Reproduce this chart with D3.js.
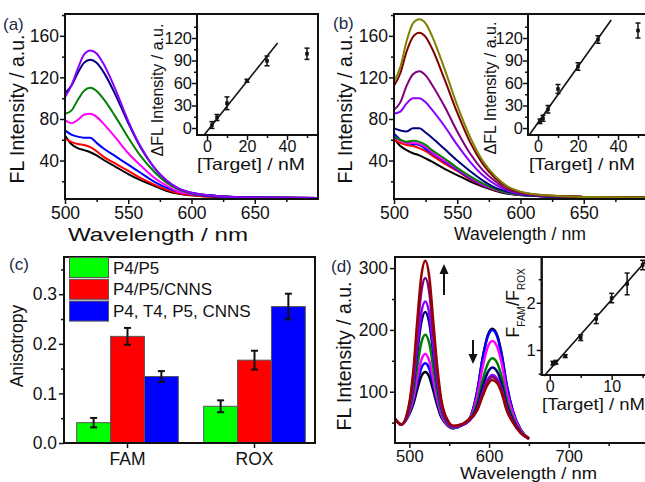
<!DOCTYPE html>
<html>
<head>
<meta charset="utf-8">
<script src="https://cdn.jsdelivr.net/npm/d3@7/dist/d3.min.js"></script>
<style>
  body { margin: 0; background: #fff; }
  svg { display: block; font-family: "Liberation Sans", Arial, sans-serif; }
</style>
</head>
<body>
<svg id="fig" width="645" height="482"></svg>
<script>
// ─── Data ───

// (a) spectra, sampled at waveAB (nm)
const waveAB = [500, 505, 510, 515, 520, 525, 530, 540, 550, 560, 570, 580, 590, 600, 620, 650, 700];
const specA = [
    [64, 56, 52, 50, 48, 45, 41, 34, 27, 21, 16, 11, 8, 6.5, 5, 4.5, 4],          // black
    [61, 58, 56, 55, 53, 49, 44, 37, 30, 23, 17, 12, 8.5, 6.5, 5, 4.5, 4],        // red
    [69, 65, 63, 62, 62, 57, 52, 44, 36, 28, 20, 14, 10, 7.5, 5.5, 4.5, 4],       // blue
    [79, 76, 79, 84, 85, 82, 76, 62, 47, 35, 24, 16, 10, 8, 6, 4.5, 4],           // magenta
    [85, 88, 98, 107, 110, 107, 100, 82, 62, 44, 30, 19, 12, 8.5, 6, 4.5, 4],     // green
    [105, 112, 124, 134, 137, 134, 126, 103, 76, 52, 34, 21, 13, 9, 6, 4.5, 4],   // navy
    [101, 112, 128, 142, 146, 143, 134, 108, 78, 53, 34, 21, 13, 9, 6, 4.5, 4]    // violet
];
const colorsA = ['#000000', '#ff0000', '#0000ff', '#ff00ff', '#008000', '#000080', '#8b00ff'];

// (a) inset
const insetAX = [2.5, 5, 10, 20, 30, 50];
const insetAY = [4, 14, 33, 63, 89.5, 99];
const insetAErr = [4.5, 4, 8.5, 2, 6.5, 7.5];
const fitA = { slope: 3.34, intercept: -4.4, from: -1.35, to: 35.3 };

// (b) spectra
const specB = [
    [61, 54, 50, 47, 45, 42, 39, 32, 26, 20, 15, 11, 8, 6.5, 5.5, 5, 4.5],           // black
    [60, 57, 55, 54, 52, 49, 45, 37, 30, 22, 16, 11.5, 8.5, 7, 5.5, 5, 4.5],         // red
    [66, 60, 57, 56, 55, 51, 47, 39, 31, 23, 16.5, 12, 8.5, 7, 5.5, 5, 4.5],         // blue
    [62, 59, 57, 57, 56, 53, 48, 40, 32, 24, 17, 12, 9, 7, 5.5, 5, 4.5],             // magenta
    [63, 60, 58, 59, 58, 55, 50, 42, 33, 25, 18, 12.5, 9, 7, 5.5, 5, 4.5],           // green
    [71, 69, 68, 71, 71, 67, 62, 51, 40, 30, 21, 14, 10, 7.5, 5.5, 5, 4.5],          // navy
    [85, 87, 95, 100, 100, 96, 89, 73, 55, 39, 26, 17, 11, 8, 6, 5, 4.5],            // violet
    [89, 96, 112, 123, 126, 122, 113, 92, 68, 47, 31, 20, 12, 9, 6, 5, 4.5],         // purple
    [112, 124, 145, 159, 163, 159, 148, 118, 86, 58, 37, 23, 14, 9.5, 6.5, 5, 4.5],  // dark red
    [116, 130, 155, 172, 176, 172, 160, 128, 93, 63, 40, 25, 15, 10, 6.5, 5, 4.5]    // olive
];
const colorsB = ['#000000', '#ff0000', '#0000ff', '#ff00ff', '#008000', '#000080', '#8b00ff', '#800080', '#800000', '#808000'];

// (b) inset
const insetBX = [1, 2.5, 5, 10, 20, 30, 50];
const insetBY = [9, 13, 25, 52, 82, 118, 130];
const insetBErr = [3, 4, 5, 6, 5, 5, 10];
const fitB = { slope: 3.74, intercept: 7.2, from: -4.3, to: 36.6 };

// (c) anisotropy bars
const barGroups = ['FAM', 'ROX'];
const barSeries = ['P4/P5', 'P4/P5/CNNS', 'P4, T4, P5, CNNS'];
const barValues = [
    [0.041, 0.215, 0.134],   // FAM
    [0.074, 0.167, 0.275]    // ROX
];
const barErrors = [
    [0.0095, 0.017, 0.011],
    [0.012, 0.019, 0.026]
];
const barColors = ['#00ff00', '#ff0000', '#0000ff'];

// (d) dual-emission spectra
const waveD = [482, 490, 500, 505, 510, 515, 520, 525, 530, 535, 540, 548, 555, 565, 575, 585, 592, 598, 604, 610, 616, 622, 630, 640, 650];
const specD = [
    [56, 47, 64, 80, 104, 125, 132, 124, 102, 78, 59, 45, 41, 45, 55, 100, 155, 190, 202, 192, 160, 112, 68, 38, 24], // black
    [56, 47, 65, 84, 113, 138, 146, 137, 111, 83, 61, 46, 41, 45, 55, 99, 154, 188, 200, 190, 158, 111, 68, 38, 24],  // blue
    [56, 47, 67, 89, 122, 151, 161, 150, 120, 88, 64, 46, 42, 45, 54, 92, 140, 171, 182, 173, 145, 102, 64, 37, 24],  // magenta
    [56, 47, 70, 98, 141, 179, 192, 178, 139, 99, 69, 48, 42, 46, 54, 82, 119, 144, 154, 147, 123, 88, 57, 35, 24],   // green
    [56, 47, 74, 109, 164, 212, 229, 211, 162, 112, 75, 50, 43, 46, 53, 76, 108, 130, 139, 133, 112, 80, 54, 34, 24], // navy
    [56, 47, 75, 114, 175, 228, 246, 227, 173, 118, 77, 51, 43, 46, 53, 71, 99, 119, 127, 121, 103, 74, 51, 33, 24],  // violet
    [56, 47, 79, 126, 198, 262, 284, 261, 196, 131, 83, 53, 44, 47, 53, 70, 96, 116, 124, 119, 101, 73, 51, 33, 24],  // purple
    [56, 47, 82, 134, 216, 287, 312, 286, 214, 141, 88, 54, 45, 47, 56, 70, 93, 111, 119, 114, 97, 70, 50, 33, 24]    // dark red
];
const colorsD = ['#000000', '#0000ff', '#ff00ff', '#008000', '#000080', '#8b00ff', '#800080', '#990000'];

// (d) inset
const insetDX = [0.5, 1, 2.5, 5, 7.5, 10, 12.5, 15];
const insetDY = [0.72, 0.74, 0.87, 1.26, 1.66, 2.1, 2.4, 2.8];
const insetDErr = [0.04, 0.04, 0.03, 0.06, 0.1, 0.1, 0.23, 0.1];
const fitD = { slope: 0.148, intercept: 0.586, from: -0.92, to: 17 };

// ─── Helpers ───
const svg = d3.select('#fig');
const INK = '#111';
const FONT = '"Liberation Sans", Arial, sans-serif';

function axes(x, y, o) {
    const g = svg.append('g');
    const [x0] = x.range();
    const [y0] = y.range();   // y0 = bottom
    const fs = o.fontSize || 17;

    const bx = g.append('g').attr('transform', `translate(0,${y0})`)
        .call(d3.axisBottom(x).tickValues(o.xTicks).tickSize(5).tickPadding(o.xPad ?? 4)
            .tickFormat(o.xFmt || d3.format('d')));
    if (o.xMinor) {
        g.append('g').attr('transform', `translate(0,${y0})`)
            .call(d3.axisBottom(x).tickValues(o.xMinor).tickSize(3).tickFormat(''))
            .select('.domain').remove();
    }
    const ly = g.append('g').attr('transform', `translate(${x0},0)`)
        .call(d3.axisLeft(y).tickValues(o.yTicks).tickSize(5).tickPadding(o.yPad ?? 2)
            .tickFormat(o.yFmt || d3.format('d')));
    if (o.yMinor) {
        g.append('g').attr('transform', `translate(${x0},0)`)
            .call(d3.axisLeft(y).tickValues(o.yMinor).tickSize(3).tickFormat(''))
            .select('.domain').remove();
    }
    bx.select('.domain').remove();
    ly.select('.domain').remove();
    g.selectAll('.tick line').attr('stroke', INK).attr('stroke-width', 1.5);
    g.selectAll('.tick text').attr('fill', INK).style('font-size', fs + 'px')
        .style('font-family', FONT);
    if (o.xFont) bx.selectAll('.tick text').style('font-size', o.xFont + 'px');
    return g;
}

function frame(x, y, fill) {
    const [x0, x1] = x.range();
    const [y0, y1] = y.range();
    return svg.append('rect')
        .attr('x', x0).attr('y', y1)
        .attr('width', x1 - x0).attr('height', y0 - y1)
        .attr('fill', fill || 'none')
        .attr('stroke', INK).attr('stroke-width', 2);
}

function label(txt, xp, yp, size, opts = {}) {
    const t = svg.append('text')
        .attr('x', xp).attr('y', yp)
        .attr('fill', opts.color || INK)
        .style('font-size', size + 'px')
        .style('font-family', FONT)
        .attr('text-anchor', opts.anchor || 'start')
        .text(txt);
    if (opts.rotate) t.attr('transform', `rotate(-90,${xp},${yp})`);
    if (opts.length) t.attr('textLength', opts.length).attr('lengthAdjust', 'spacingAndGlyphs');
    return t;
}

function spectra(x, y, wave, series, colors, width) {
    const line = d3.line()
        .x((d, i) => x(wave[i]))
        .y(d => y(d))
        .curve(d3.curveMonotoneX);
    svg.append('g').attr('fill', 'none').attr('stroke-width', width)
        .attr('stroke-linejoin', 'round')
        .selectAll('path').data(series).join('path')
        .attr('stroke', (d, i) => colors[i])
        .attr('d', line);
}

function scatterFit(x, y, xs, ys, errs, fit) {
    const g = svg.append('g');
    g.append('line')
        .attr('x1', x(fit.from)).attr('y1', y(fit.slope * fit.from + fit.intercept))
        .attr('x2', x(fit.to)).attr('y2', y(fit.slope * fit.to + fit.intercept))
        .attr('stroke', INK).attr('stroke-width', 1.6);
    xs.forEach((v, i) => {
        const cx = x(v), top = y(ys[i] + errs[i]), bot = y(ys[i] - errs[i]);
        g.append('line').attr('x1', cx).attr('x2', cx).attr('y1', top).attr('y2', bot)
            .attr('stroke', INK).attr('stroke-width', 1.5);
        [top, bot].forEach(yy => g.append('line')
            .attr('x1', cx - 2.5).attr('x2', cx + 2.5).attr('y1', yy).attr('y2', yy)
            .attr('stroke', INK).attr('stroke-width', 1.5));
        g.append('rect').attr('x', cx - 1.8).attr('y', y(ys[i]) - 1.8)
            .attr('width', 3.6).attr('height', 3.6).attr('fill', INK);
    });
}

const panelInk = '#1c2a4a';

// ─── Panel (a) ───
{
    const x = d3.scaleLinear([500, 700], [65, 318]);
    const y = d3.scaleLinear([3, 181], [199, 14]);
    spectra(x, y, waveAB, specA, colorsA, 2);
    frame(x, y);
    axes(x, y, { xTicks: [500, 550, 600, 650], xMinor: [525, 575, 625, 675],
        yTicks: [40, 80, 120, 160], yMinor: [20, 60, 100, 140, 180], fontSize: 17.5, xPad: 3, yPad: 1 });
    label('Wavelength / nm', 68, 241, 18.5, { length: 180 });
    label('FL Intensity / a.u.', 24, 109, 19.5, { rotate: true, anchor: 'middle' });
    label('(a)', 3, 30, 17, { color: panelInk });

    const xi = d3.scaleLinear([-5, 55.5], [197, 318]);
    const yi = d3.scaleLinear([-9.3, 152], [135, 14]);
    frame(xi, yi, '#fff');
    scatterFit(xi, yi, insetAX, insetAY, insetAErr, fitA);
    frame(xi, yi);
    axes(xi, yi, { xTicks: [0, 20, 40], xMinor: [10, 30, 50], yTicks: [0, 30, 60, 90, 120],
        yMinor: [15, 45, 75, 105, 135], fontSize: 16.5, xFont: 16, xPad: 1, yPad: 0 });
    label('[Target] / nM', 197, 170, 16.5, { length: 108 });
    label('\u0394FL Intensity / a.u.', 163, 90, 16, { rotate: true, anchor: 'middle' });
}

// ─── Panel (b) ───
{
    const x = d3.scaleLinear([500, 700], [394, 647]);
    const y = d3.scaleLinear([3, 181], [199, 14]);
    spectra(x, y, waveAB, specB, colorsB, 2);
    frame(x, y);
    axes(x, y, { xTicks: [500, 550, 600, 650], xMinor: [525, 575, 625, 675],
        yTicks: [40, 80, 120, 160], yMinor: [20, 60, 100, 140, 180], fontSize: 17.5, xPad: 3, yPad: 1 });
    label('Wavelength / nm', 454, 240, 17.5, { length: 132 });
    label('FL Intensity / a.u.', 352, 109, 19.5, { rotate: true, anchor: 'middle' });
    label('(b)', 333, 29, 17, { color: panelInk });

    const xi = d3.scaleLinear([-5, 55.5], [528, 649]);
    const yi = d3.scaleLinear([-9.3, 152], [135, 14]);
    frame(xi, yi, '#fff');
    scatterFit(xi, yi, insetBX, insetBY, insetBErr, fitB);
    frame(xi, yi);
    axes(xi, yi, { xTicks: [0, 20, 40], xMinor: [10, 30, 50], yTicks: [0, 30, 60, 90, 120],
        yMinor: [15, 45, 75, 105, 135], fontSize: 16.5, xFont: 16, xPad: 1, yPad: 0 });
    label('[Target] / nM', 529, 170, 16.5, { length: 106 });
    label('\u0394FL Intensity / a.u.', 496, 88, 16, { rotate: true, anchor: 'middle' });
}

// ─── Panel (c) ───
{
    const x0 = d3.scaleBand(barGroups, [64, 318]).paddingInner(0.2).paddingOuter(0.1);
    const x1 = d3.scaleBand(barSeries, [0, x0.bandwidth()]);
    const y = d3.scaleLinear([0, 0.375], [443, 257]);
    const frameX = d3.scaleLinear([0, 1], [64, 315]);

    const groups = svg.append('g').selectAll('g').data(barValues).join('g')
        .attr('transform', (d, i) => `translate(${x0(barGroups[i])},0)`);
    groups.selectAll('rect').data(d => d).join('rect')
        .attr('x', (d, j) => x1(barSeries[j]))
        .attr('y', d => y(d))
        .attr('width', x1.bandwidth())
        .attr('height', d => y(0) - y(d))
        .attr('fill', (d, j) => barColors[j])
        .attr('stroke', '#555').attr('stroke-width', 1);
    groups.each(function (vals, i) {
        const g = d3.select(this);
        vals.forEach((v, j) => {
            const cx = x1(barSeries[j]) + x1.bandwidth() / 2;
            const top = y(v + barErrors[i][j]), bot = y(v - barErrors[i][j]);
            g.append('line').attr('x1', cx).attr('x2', cx).attr('y1', top).attr('y2', bot)
                .attr('stroke', INK).attr('stroke-width', 2);
            [top, bot].forEach(yy => g.append('line')
                .attr('x1', cx - 3.5).attr('x2', cx + 3.5).attr('y1', yy).attr('y2', yy)
                .attr('stroke', INK).attr('stroke-width', 2));
        });
    });

    frame(frameX, y);
    const g = svg.append('g');
    const ax = g.append('g').attr('transform', `translate(0,443)`)
        .call(d3.axisBottom(x0).tickSize(5).tickPadding(5));
    ax.select('.domain').remove();
    const ay = g.append('g').attr('transform', 'translate(64,0)')
        .call(d3.axisLeft(y).tickValues([0, 0.1, 0.2, 0.3]).tickSize(5).tickPadding(2).tickFormat(d3.format('.1f')));
    ay.select('.domain').remove();
    g.append('g').attr('transform', 'translate(64,0)')
        .call(d3.axisLeft(y).tickValues([0.05, 0.15, 0.25, 0.35]).tickSize(3).tickFormat(''))
        .select('.domain').remove();
    g.selectAll('.tick line').attr('stroke', INK).attr('stroke-width', 1.5);
    g.selectAll('.tick text').attr('fill', INK).style('font-size', '17.5px')
        .style('font-family', FONT);

    label('Anisotropy', 23, 346, 17.5, { rotate: true, anchor: 'middle' });
    label('(c)', 9, 270, 17, { color: panelInk });

    // legend
    const lg = svg.append('g');
    barSeries.forEach((s, j) => {
        const top = 257.5 + j * 21.8;
        lg.append('rect').attr('x', 69.5).attr('y', top).attr('width', 39).attr('height', 20)
            .attr('fill', barColors[j]).attr('stroke', '#555').attr('stroke-width', 1);
        lg.append('text').attr('x', 113).attr('y', top + 16).attr('fill', INK)
            .style('font-size', '17px').style('font-family', FONT).text(s);
    });
}

// ─── Panel (d) ───
{
    const x = d3.scaleLinear([482, 800], [395, 648.5]);
    const y = d3.scaleLinear([17, 318], [443, 257]);
    spectra(x, y, waveD, specD, colorsD, 2.5);
    frame(x, y);
    axes(x, y, { xTicks: [500, 600, 700], xMinor: [550, 650, 750],
        yTicks: [100, 200, 300], yMinor: [50, 150, 250], fontSize: 17.5, xFont: 16.5, xPad: 2, yPad: 2 });
    label('Wavelength / nm', 460, 479, 16.5, { length: 137 });
    label('FL Intensity / a.u.', 351, 356, 19.5, { rotate: true, anchor: 'middle' });
    label('(d)', 331, 272, 17, { color: panelInk });

    // arrows
    const arrow = (ax, yFrom, yTo) => {
        const dir = yTo < yFrom ? -1 : 1;
        svg.append('line').attr('x1', ax).attr('x2', ax).attr('y1', yFrom).attr('y2', yTo - dir * 8)
            .attr('stroke', INK).attr('stroke-width', 2);
        svg.append('path')
            .attr('d', `M${ax},${yTo} L${ax - 4.5},${yTo - dir * 10} L${ax + 4.5},${yTo - dir * 10} Z`)
            .attr('fill', INK);
    };
    arrow(444, 295, 264);
    arrow(473, 340, 364);

    const xi = d3.scaleLinear([-1.3, 17], [541.7, 655]);
    const yi = d3.scaleLinear([0.47, 2.97], [375, 257]);
    frame(xi, yi, '#fff');
    scatterFit(xi, yi, insetDX, insetDY, insetDErr, fitD);
    frame(xi, yi);
    axes(xi, yi, { xTicks: [0, 10], xMinor: [5, 15], yTicks: [1, 2], yMinor: [0.5, 1.5, 2.5],
        fontSize: 16.5, xFont: 16, xPad: 1, yPad: 1 });
    label('[Target] / nM', 542, 410, 16.5, { length: 103 });
    const ft = svg.append('text')
        .attr('x', 519).attr('y', 303).attr('fill', INK)
        .attr('text-anchor', 'middle')
        .attr('transform', 'rotate(-90,519,303)')
        .style('font-size', '18px').style('font-family', FONT);
    ft.append('tspan').text('F');
    ft.append('tspan').attr('baseline-shift', 'sub').style('font-size', '10px').text('FAM');
    ft.append('tspan').text('/F');
    ft.append('tspan').attr('baseline-shift', 'sub').style('font-size', '10px').text('ROX');
}
</script>
</body>
</html>
